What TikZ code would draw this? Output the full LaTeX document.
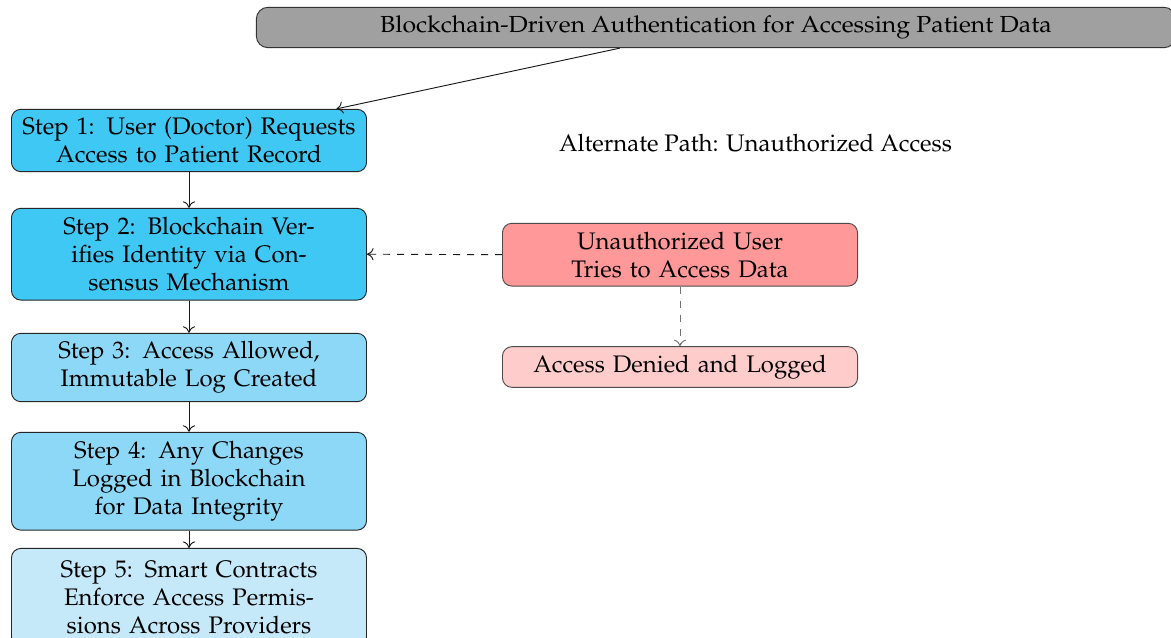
\documentclass[tikz,border=0pt]{standalone}
\usepackage[T1]{fontenc}
\usepackage{mathpazo}
\usepackage{graphicx}
\usetikzlibrary{arrows.meta}

\definecolor{stepdark}{RGB}{64,200,244}
\definecolor{stepmid}{RGB}{141,216,246}
\definecolor{steplight}{RGB}{198,233,249}
\definecolor{alertred}{RGB}{255,153,153}
\definecolor{alertpink}{RGB}{255,204,204}
\definecolor{titlegray}{RGB}{160,160,160}

\tikzset{
  every node/.style={font=\fontsize{10.26pt}{12pt}\selectfont},
  stepbox/.style={draw=black!85, rounded corners=4pt, align=center,
    text width=145.5pt, inner xsep=3.33pt, inner ysep=0pt},
  alertbox/.style={stepbox, draw=black!70},
  tip/.style={-{To[length=2.8pt,width=5.2pt]}},
  flow/.style={tip, black!90},
  altflow/.style={tip, dashed, black!90},
  denyflow/.style={tip, dashed, black!55},
}

\begin{document}
\begin{tikzpicture}[x=0.42857pt, y=-0.42857pt]
  \useasboundingbox (0,0) rectangle (1171,637);

  % title banner
  \node[draw=black!80, fill=titlegray, rounded corners=5pt, minimum width=394pt,
        minimum height=17.3pt, inner sep=0pt] (title) at (716,27.5)
        {\scalebox{1.036}[0.97]{Blockchain-Driven Authentication for Accessing Patient Data}};

  % main authentication steps
  \node[stepbox, fill=stepdark, minimum height=26.7pt] (s1) at (189,140.5)
    {Step 1: User (Doctor) Requests\\Access to Patient Record};
  \node[stepbox, fill=stepdark, minimum height=39.3pt] (s2) at (189,254.2)
    {Step 2: Blockchain Ver-\\ifies Identity via Con-\\sensus Mechanism};
  \node[stepbox, fill=stepmid, minimum height=29.3pt] (s3) at (189,367.5)
    {Step 3: Access Allowed,\\Immutable Log Created};
  \node[stepbox, fill=stepmid, minimum height=41.9pt] (s4) at (189,481.2)
    {Step 4: Any Changes\\Logged in Blockchain\\for Data Integrity};
  \node[stepbox, fill=steplight, minimum height=41.9pt] (s5) at (189,597.3)
    {Step 5: Smart Contracts\\Enforce Access Permis-\\sions Across Providers};

  % unauthorized branch
  \node (alt) at (755.5,143) {Alternate Path: Unauthorized Access};
  \node[alertbox, fill=alertred, minimum height=26.9pt] (u1) at (680,254.7)
    {Unauthorized User\\Tries to Access Data};
  \node[alertbox, fill=alertpink, minimum height=17.4pt] (u2) at (680,367)
    {Access Denied and Logged};

  % connectors
  \draw[flow] (title) -- (s1);
  \draw[flow] (s1) -- (s2);
  \draw[flow] (s2) -- (s3);
  \draw[flow] (s3) -- (s4);
  \draw[flow] (s4) -- (s5);
  \draw[altflow] (u1.west) -- (s2.east);
  \draw[denyflow] (u1) -- (u2);
\end{tikzpicture}
\end{document}
